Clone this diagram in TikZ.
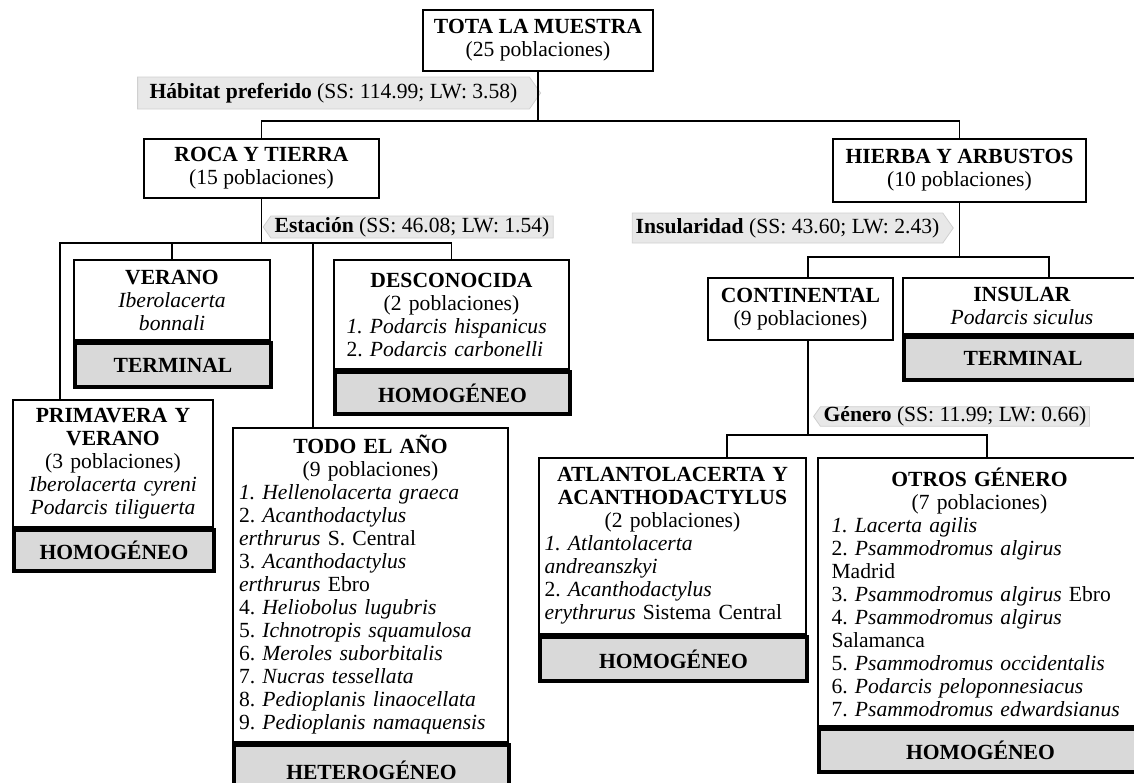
\documentclass[tikz,border=0pt]{standalone}
\usepackage{fontspec}
\setmainfont{Liberation Serif}
\usepackage{tikz}
\usetikzlibrary{shapes.symbols}
\definecolor{resgray}{RGB}{217,217,217}
\definecolor{splitgray}{RGB}{232,232,232}
\definecolor{splitline}{RGB}{208,208,208}
\newcommand*{\boxfont}{\fontsize{10.8}{11.5}\selectfont\frenchspacing}
\newcommand*{\li}[1]{\leavevmode\hbox to \hsize{#1\hfil}}% left aligned line in a centred box
\tikzset{%
  box/.style={draw, rectangle, line width=1pt, align=center, inner sep=0pt,
    anchor=north west, font=\boxfont},% group of populations
  result/.style={box, line width=2pt, fill=resgray, font=\boxfont\bfseries},% terminal / homogeneous
  split/.style={shape=signal, signal pointer angle=110, fill=splitgray, draw=splitline,
    inner sep=0pt, font=\boxfont},% splitting variable
  tree/.style={line width=0.8pt}% branches
}

\begin{document}
\begin{tikzpicture}[x=0.5pt, y=-0.5pt]
\useasboundingbox (0,0) rectangle (1134,782);

% level 0
\node[box, minimum width=115pt, minimum height=30.5pt] (tota) at (422,9)
  {\textbf{TOTA LA MUESTRA}\\(25 poblaciones)};
\node[split, signal to=east, minimum width=201.5pt, minimum height=16pt] (habitat) at (333.5,93)
  {\textbf{Hábitat preferido} (SS: 114.99; LW: 3.58)};

% level 1
\node[box, minimum width=117.5pt, minimum height=29.5pt] (roca) at (143,138)
  {\textbf{ROCA Y TIERRA}\\(15 poblaciones)};
\node[box, minimum width=126.5pt, minimum height=31.5pt] (hierba) at (832,138)
  {\textbf{HIERBA Y ARBUSTOS}\\(10 poblaciones)};
\node[split, signal to=west, minimum width=145pt, minimum height=11pt] (estacion) at (412,227)
  {\textbf{Estación} (SS: 46.08; LW: 1.54)};
\node[split, signal to=east, minimum width=160.5pt, minimum height=15pt] (insularidad) at (787.5,228)
  {\textbf{Insularidad} (SS: 43.60; LW: 2.43)};

% level 2, left
\node[box, minimum width=98pt, minimum height=40pt, text width=90pt] (verano) at (73,259)
  {\textbf{VERANO}\\\textit{Iberolacerta}\\\textit{bonnali}};
\node[result, minimum width=98pt, minimum height=22pt] (verano-r) at (verano.south west) {TERMINAL};

\node[box, minimum width=117.5pt, minimum height=54.5pt, text width=105pt] (desc) at (333,259)
  {\textbf{DESCONOCIDA}\\(2 poblaciones)\\
   \li{\textit{1. Podarcis hispanicus}}\\
   \li{2. \textit{Podarcis carbonelli}}};
\node[result, minimum width=117.5pt, minimum height=21pt] (desc-r) at (desc.south west) {HOMOGÉNEO};

\node[box, minimum width=100pt, minimum height=63.5pt, text width=94pt] (prim) at (12,399)
  {\textbf{PRIMAVERA Y}\\\textbf{VERANO}\\(3 poblaciones)\\
   \textit{Iberolacerta cyreni}\\\textit{Podarcis tiliguerta}};
\node[result, minimum width=100pt, minimum height=20.5pt] (prim-r) at (prim.south west) {HOMOGÉNEO};

\node[box, minimum width=137.5pt, minimum height=157pt, text width=131.5pt] (todo) at (232,427)
  {\textbf{TODO EL AÑO}\\(9 poblaciones)\\
   \li{\textit{1. Hellenolacerta graeca}}\\
   \li{2. \textit{Acanthodactylus}}\\
   \li{\textit{erthrurus} S. Central}\\
   \li{3. \textit{Acanthodactylus}}\\
   \li{\textit{erthrurus} Ebro}\\
   \li{4. \textit{Heliobolus lugubris}}\\
   \li{5. \textit{Ichnotropis squamulosa}}\\
   \li{6. \textit{Meroles suborbitalis}}\\
   \li{7. \textit{Nucras tessellata}}\\
   \li{8. \textit{Pedioplanis linaocellata}}\\
   \li{9. \textit{Pedioplanis namaquensis}}};
\node[result, minimum width=137.5pt, minimum height=25pt] (todo-r) at (todo.south west) {HETEROGÉNEO};

% level 2, right
\node[box, minimum width=92.5pt, minimum height=31pt] (cont) at (707,277)
  {\textbf{CONTINENTAL}\\(9 poblaciones)};
\node[box, minimum width=119pt, minimum height=28pt] (insular) at (902,277)
  {\textbf{INSULAR}\\\textit{Podarcis siculus}};
\node[result, minimum width=119pt, minimum height=21.5pt] (insular-r) at (insular.south west) {TERMINAL};
\node[split, signal to=west, minimum width=138pt, minimum height=9.5pt] (genero) at (955,416.5)
  {\textbf{Género} (SS: 11.99; LW: 0.66)};

% level 3
\node[box, minimum width=133.5pt, minimum height=88pt, text width=128pt] (atlanto) at (538,457)
  {\textbf{ATLANTOLACERTA Y}\\\textbf{ACANTHODACTYLUS}\\(2 poblaciones)\\
   \li{\textit{1. Atlantolacerta}}\\
   \li{\textit{andreanszkyi}}\\
   \li{2. \textit{Acanthodactylus}}\\
   \li{\textit{erythrurus} Sistema Central}};
\node[result, minimum width=133.5pt, minimum height=22pt] (atlanto-r) at (atlanto.south west) {HOMOGÉNEO};

\node[box, minimum width=161.5pt, minimum height=134pt, text width=148pt] (otros) at (817,457)
  {\textbf{OTROS GÉNERO}\\(7 poblaciones)\\
   \li{\textit{1. Lacerta agilis}}\\
   \li{2. \textit{Psammodromus algirus}}\\
   \li{Madrid}\\
   \li{3. \textit{Psammodromus algirus} Ebro}\\
   \li{4. \textit{Psammodromus algirus}}\\
   \li{Salamanca}\\
   \li{5. \textit{Psammodromus occidentalis}}\\
   \li{6. \textit{Podarcis peloponnesiacus}}\\
   \li{7. \textit{Psammodromus edwardsianus}}};
\node[result, minimum width=161.5pt, minimum height=21.5pt] (otros-r) at (otros.south west) {HOMOGÉNEO};

% branch points
\coordinate (s1) at (0,121);
\coordinate (s2) at (60,243);
\coordinate (dtodo) at (313,243);
\coordinate (s3) at (808,257);
\coordinate (dins) at (1049,257);
\coordinate (s4) at (808,435);
\coordinate (datl) at (727,435);
\coordinate (dotr) at (987,435);

\draw[tree] (tota.south) -- (tota.south |- s1) -| (roca.north);
\draw[tree] (tota.south |- s1) -| (hierba.north);

\draw[tree] (roca.south) -- (roca.south |- s2);
\draw[tree] (prim.north -| s2) -- (s2) -| (desc.north);
\draw[tree] (verano.north) -- (verano.north |- s2);
\draw[tree] (todo.north -| dtodo) -- (dtodo);

\draw[tree] (hierba.south) -- (hierba.south |- s3);
\draw[tree] (cont.north -| s3) -- (s3) -- (dins) -- (insular.north -| dins);

\draw[tree] (cont.south -| s4) -- (s4);
\draw[tree] (atlanto.north -| datl) -- (datl) -- (dotr) -- (otros.north -| dotr);
\end{tikzpicture}
\end{document}
